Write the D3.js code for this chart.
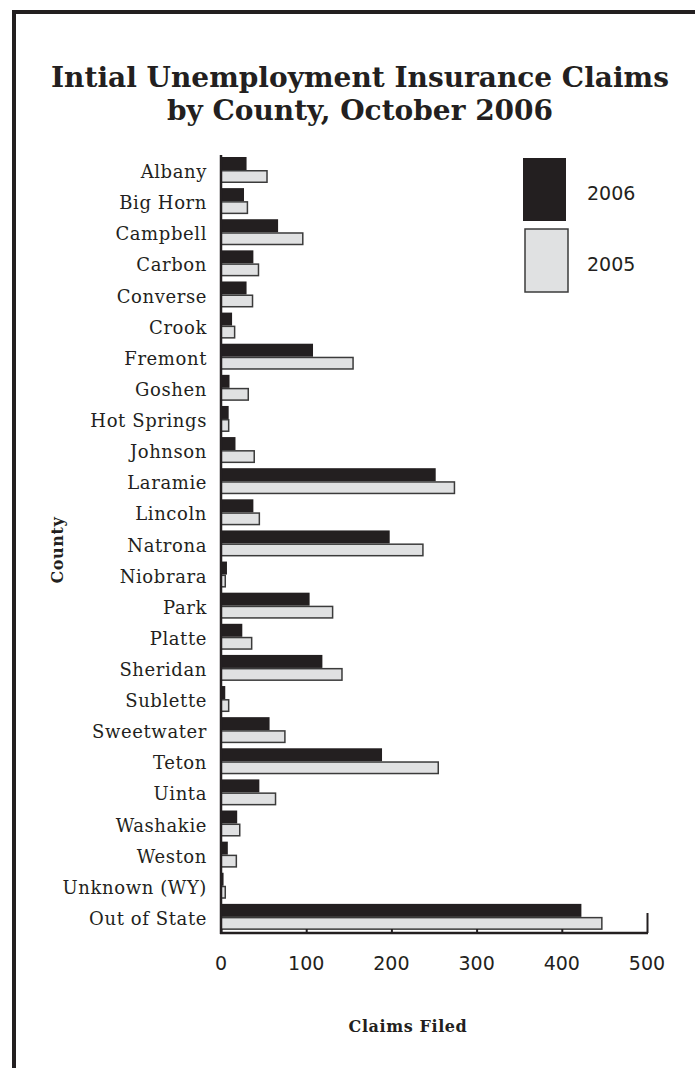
<!DOCTYPE html>
<html>
<head>
<meta charset="utf-8">
<script src="https://cdn.jsdelivr.net/npm/d3@7/dist/d3.min.js"></script>
<style>
  html, body { margin: 0; padding: 0; background: #fff; }
  svg { display: block; }
</style>
</head>
<body>
<svg id="chart" width="695" height="1068"></svg>
<script>
// Counties, top to bottom
const counties = [
  "Albany", "Big Horn", "Campbell", "Carbon", "Converse", "Crook", "Fremont",
  "Goshen", "Hot Springs", "Johnson", "Laramie", "Lincoln", "Natrona",
  "Niobrara", "Park", "Platte", "Sheridan", "Sublette", "Sweetwater",
  "Teton", "Uinta", "Washakie", "Weston", "Unknown (WY)", "Out of State"
];
// Initial claims filed, October 2006
const claims2006 = [30, 27, 67, 38, 30, 13, 108, 10, 9, 17, 252, 38, 198,
  7, 104, 25, 119, 5, 57, 189, 45, 19, 8, 3, 423];
// Initial claims filed, October 2005
const claims2005 = [54, 31, 96, 44, 37, 16, 155, 32, 9, 39, 274, 45, 237,
  5, 131, 36, 142, 9, 75, 255, 64, 22, 18, 5, 447];
const seriesNames = ["2006", "2005"];
const xTicks = [0, 100, 200, 300, 400, 500];

const ink = "#231f20";
const light = "#e0e1e2";

const svg = d3.select("#chart");

// Page frame (top and left rules)
svg.append("rect").attr("x", 12).attr("y", 10).attr("width", 700).attr("height", 4).attr("fill", ink);
svg.append("rect").attr("x", 12).attr("y", 10).attr("width", 4).attr("height", 1070).attr("fill", ink);

// Title, two lines
const titleLines = ["Intial Unemployment Insurance Claims", "by County, October 2006"];
svg.append("g").selectAll("text").data(titleLines).join("text")
  .attr("x", 360).attr("y", (d, i) => 87 + i * 33)
  .attr("text-anchor", "middle")
  .attr("font-family", "'DejaVu Serif', serif").attr("font-weight", "bold")
  .attr("font-size", 28).attr("fill", ink)
  .text(d => d);

// Scales
const x = d3.scaleLinear().domain([0, 500]).range([221, 647]);
const y = d3.scaleBand().domain(counties).range([155, 933]).padding(0);
const sub = d3.scaleBand().domain(seriesNames).range([2, 28]).padding(0);

const rows = counties.map((c, i) => ({ county: c, v2006: claims2006[i], v2005: claims2005[i] }));

const g = svg.append("g");

// 2006 bars
g.selectAll("rect.b2006").data(rows).join("rect")
  .attr("class", "b2006")
  .attr("x", x(0))
  .attr("y", d => y(d.county) + sub("2006"))
  .attr("width", d => x(d.v2006) - x(0))
  .attr("height", sub.bandwidth())
  .attr("fill", ink);

// 2005 bars
g.selectAll("rect.b2005").data(rows).join("rect")
  .attr("class", "b2005")
  .attr("x", x(0))
  .attr("y", d => y(d.county) + sub("2005") + 0.75)
  .attr("width", d => x(d.v2005) - x(0))
  .attr("height", sub.bandwidth() - 1.5)
  .attr("fill", light)
  .attr("stroke", "#3b3b3b")
  .attr("stroke-width", 1.5);

// Category labels
svg.append("g").selectAll("text").data(counties).join("text")
  .attr("x", 207)
  .attr("y", d => y(d) + y.bandwidth() / 2 + 1)
  .attr("text-anchor", "end")
  .attr("dominant-baseline", "central")
  .attr("font-family", "'DejaVu Serif', serif")
  .attr("font-size", 18)
  .attr("letter-spacing", 0.6)
  .attr("fill", ink)
  .text(d => d);

// X axis: baseline with upward ticks
const xAxis = d3.axisTop(x).tickValues(xTicks).tickSize(4).tickFormat("");
const ax = svg.append("g").attr("transform", "translate(0,933)").call(xAxis);
ax.select(".domain").remove();
ax.selectAll(".tick line").attr("stroke", ink).attr("stroke-width", 2);
ax.selectAll(".tick").filter(d => d === 500).select("line").attr("y2", -20);
svg.append("line").attr("x1", x(0) - 1).attr("x2", x(500) + 1)
  .attr("y1", 933).attr("y2", 933).attr("stroke", ink).attr("stroke-width", 2.5);

// Y axis line
svg.append("line").attr("x1", x(0)).attr("x2", x(0))
  .attr("y1", 155).attr("y2", 934).attr("stroke", ink).attr("stroke-width", 2.5);

// Tick labels
svg.append("g").selectAll("text").data(xTicks).join("text")
  .attr("x", d => x(d)).attr("y", 963)
  .attr("text-anchor", "middle").attr("dominant-baseline", "central")
  .attr("font-family", "'DejaVu Sans', sans-serif")
  .attr("font-size", 19).attr("fill", ink)
  .text(d => d);

// Axis titles
svg.append("text").attr("x", 408).attr("y", 1032)
  .attr("text-anchor", "middle")
  .attr("font-family", "'DejaVu Serif', serif").attr("font-weight", "bold")
  .attr("font-size", 16).attr("letter-spacing", 0.6).attr("fill", ink)
  .text("Claims Filed");
svg.append("text")
  .attr("transform", "translate(63,550) rotate(-90)")
  .attr("text-anchor", "middle")
  .attr("font-family", "'DejaVu Serif', serif").attr("font-weight", "bold")
  .attr("font-size", 16).attr("letter-spacing", 0.6).attr("fill", ink)
  .text("County");

// Legend
const legend = [
  { name: "2006", x: 523, y: 158, fill: ink, stroke: "none" },
  { name: "2005", x: 525, y: 229, fill: light, stroke: "#3b3b3b" }
];
const lg = svg.append("g").selectAll("g").data(legend).join("g");
lg.append("rect")
  .attr("x", d => d.x).attr("y", d => d.y)
  .attr("width", 43).attr("height", 63)
  .attr("fill", d => d.fill).attr("stroke", d => d.stroke).attr("stroke-width", 1.5);
lg.append("text")
  .attr("x", 587).attr("y", d => d.y + 35)
  .attr("dominant-baseline", "central")
  .attr("font-family", "'DejaVu Sans', sans-serif")
  .attr("font-size", 19).attr("fill", ink)
  .text(d => d.name);
</script>
</body>
</html>
